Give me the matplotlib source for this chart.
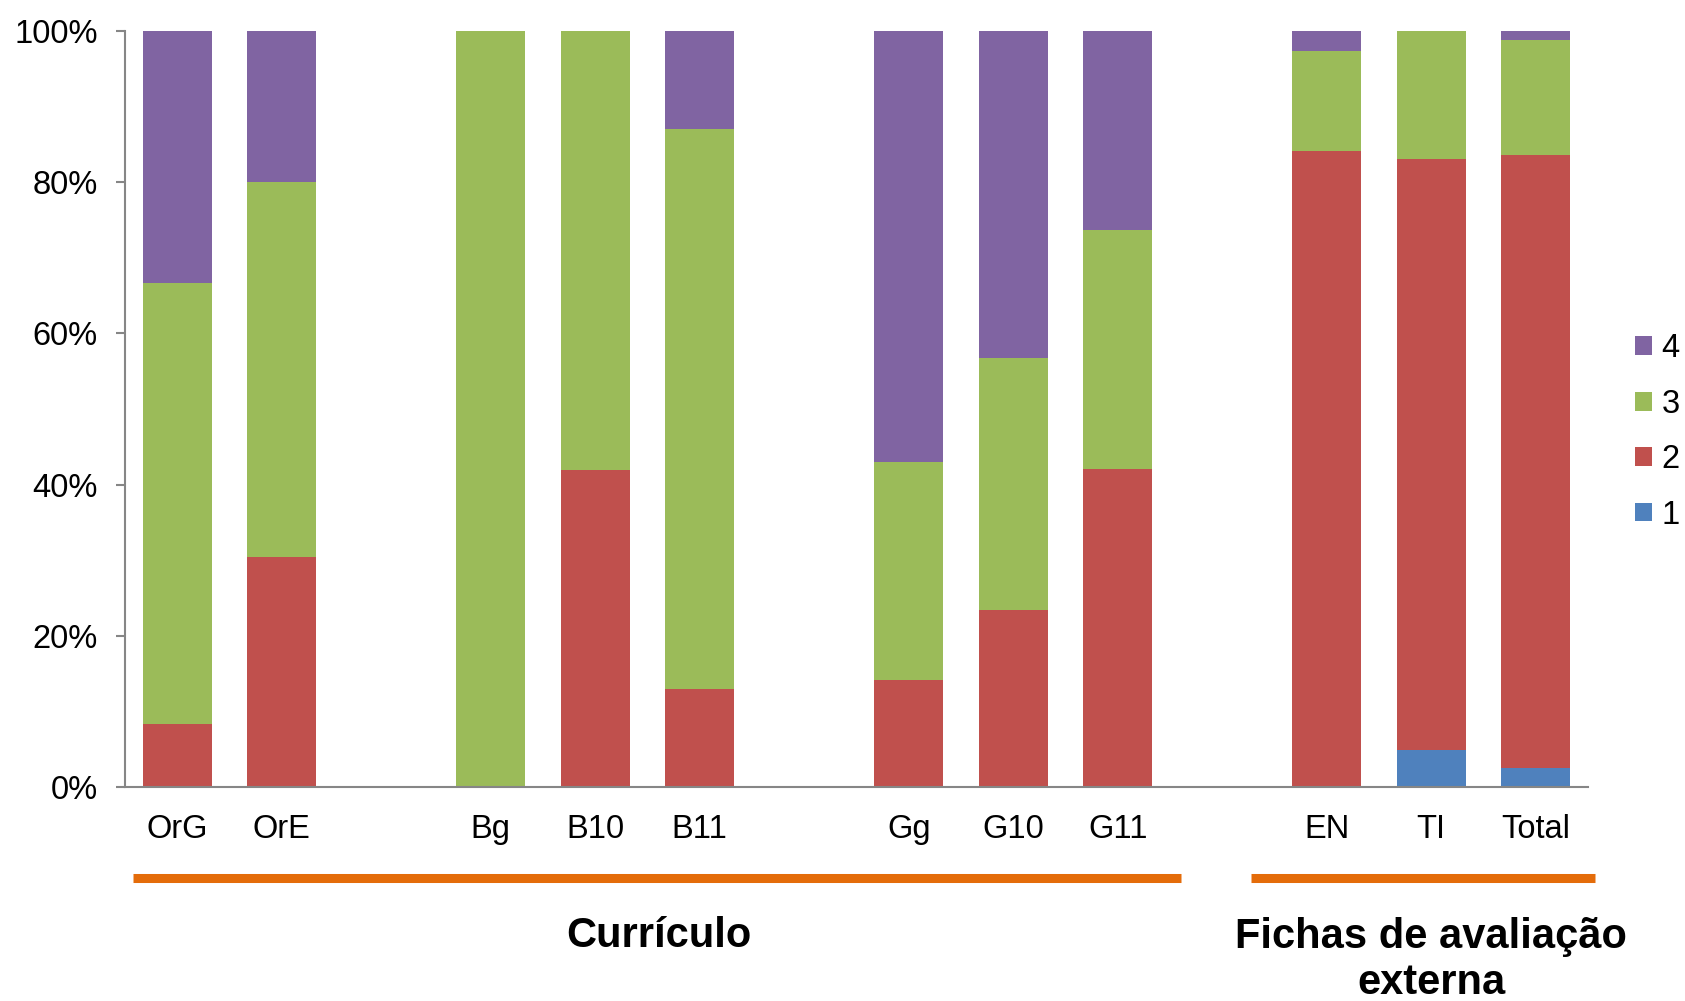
import numpy as np
import matplotlib
matplotlib.use("Agg")
import matplotlib.pyplot as plt
import matplotlib.transforms as mtransforms
from matplotlib.patches import Patch

plt.rcParams['font.family'] = ['Liberation Sans', 'DejaVu Sans']

# categorias e posições (uma posição vazia entre cada grupo)
categorias = ['OrG', 'OrE', 'Bg', 'B10', 'B11', 'Gg', 'G10', 'G11', 'EN', 'TI', 'Total']
posicoes = [0, 1, 3, 4, 5, 7, 8, 9, 11, 12, 13]

# percentagens por nível (1 a 4)
nivel1 = [0.0, 0.0, 0.0, 0.0, 0.0, 0.0, 0.0, 0.0, 0.0, 4.9, 2.6]
nivel2 = [8.4, 30.5, 0.0, 42.0, 13.0, 14.2, 23.4, 42.1, 84.1, 78.1, 80.9]
nivel3 = [58.3, 49.5, 100.0, 58.0, 74.0, 28.8, 33.4, 31.5, 13.2, 17.0, 15.3]
nivel4 = [33.3, 20.0, 0.0, 0.0, 13.0, 57.0, 43.2, 26.4, 2.7, 0.0, 1.2]

cores = {'1': '#4F81BD', '2': '#C0504D', '3': '#9BBB59', '4': '#8064A2'}
cinza = '#868686'
laranja = '#E46C0A'

fig = plt.figure(figsize=(16.85, 10.01), dpi=100)
ax = fig.add_axes([0.0742, 0.2133, 0.8682, 0.7562])

largura = 0.66
base = np.zeros(len(categorias))
for nome, valores in [('1', nivel1), ('2', nivel2), ('3', nivel3), ('4', nivel4)]:
    v = np.array(valores)
    ax.bar(posicoes, v, largura, bottom=base, color=cores[nome],
           edgecolor='none', zorder=2)
    base += v

ax.set_xlim(-0.5, 13.5)
ax.set_ylim(0, 100)
ax.set_yticks(range(0, 101, 20))
ax.set_yticklabels([f'{t}%' for t in range(0, 101, 20)])
ax.set_xticks(posicoes)
ax.set_xticklabels(categorias)

for s in ['top', 'right']:
    ax.spines[s].set_visible(False)
for s in ['left', 'bottom']:
    ax.spines[s].set_color(cinza)
    ax.spines[s].set_linewidth(1.5)
ax.tick_params(axis='y', length=6.5, width=1.5, color=cinza, pad=13, labelsize=23.5)
ax.tick_params(axis='x', length=0, pad=19, labelsize=23.5)

# linhas laranja e títulos dos grupos
trans = mtransforms.blended_transform_factory(ax.transData, ax.transAxes)
ax.plot([-0.42, 9.61], [-0.12, -0.12], color=laranja, lw=6.5,
        transform=trans, clip_on=False, solid_capstyle='butt')
ax.plot([10.28, 13.57], [-0.12, -0.12], color=laranja, lw=6.5,
        transform=trans, clip_on=False, solid_capstyle='butt')
ax.text(4.61, -0.196, 'Currículo', transform=trans, ha='center', va='center',
        fontsize=30, fontweight='bold')
ax.text(12.0, -0.228, 'Fichas de avaliação\nexterna', transform=trans,
        ha='center', va='center', fontsize=30, fontweight='bold', linespacing=1.2)

handles = [Patch(facecolor=cores[k], edgecolor='none', label=k) for k in ['4', '3', '2', '1']]
fig.legend(handles=handles, loc='center left', bbox_to_anchor=(0.9705, 0.5684),
           frameon=False, fontsize=23.5, handlelength=0.5, handleheight=0.5,
           handletextpad=0.3, labelspacing=0.75, borderaxespad=0, borderpad=0)

fig.savefig('out.png', dpi=100)
